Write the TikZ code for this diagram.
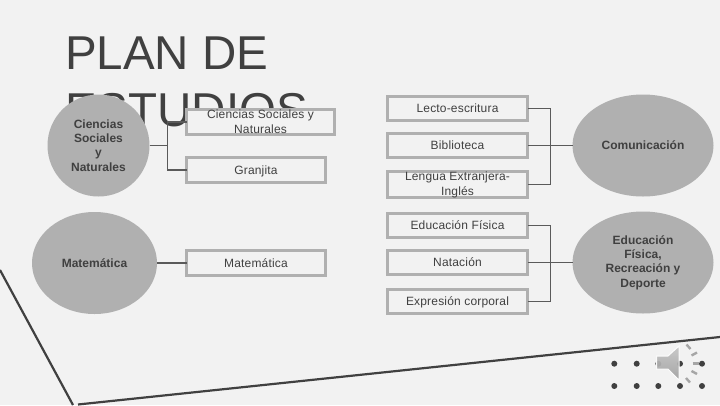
\documentclass[tikz,border=0pt]{standalone}
\usepackage{fontspec}
\setmainfont{Liberation Sans}
\usetikzlibrary{shapes.geometric}
\definecolor{bgc}{HTML}{F2F2F2}
\definecolor{ink}{HTML}{404040}
\definecolor{fillc}{HTML}{B0B0B0}
\definecolor{linkc}{HTML}{5A5A5A}
\tikzset{
  oval/.style={ellipse,fill=fillc,draw=none,inner sep=0pt,outer sep=0pt,align=center,text=ink,font=\fontsize{12}{14.4}\selectfont\bfseries},
  lbox/.style={rectangle,draw=fillc,line width=3pt,fill=bgc,inner sep=0pt,outer sep=0pt,align=center,text=ink,font=\fontsize{12}{15}\selectfont\addfontfeatures{LetterSpace=1.5}},
  lone/.style={lbox,text height=8pt,text depth=0pt},
  link/.style={draw=linkc,line width=1.2pt},
  edgeline/.style={draw=ink,line width=2.2pt},
  dotmark/.style={circle,fill=ink,inner sep=0pt,minimum size=6pt},
  title/.style={anchor=north west,inner sep=0pt,align=left,text=ink,font=\fontsize{47.5}{57.6}\selectfont},
  bar/.style={line width=2.4pt,draw=gray!85,opacity=.8}
}
\begin{document}
\begin{tikzpicture}[x=1pt,y=-1pt]
\useasboundingbox[fill=bgc] (0,0) rectangle (720,405);
% frame lines
\coordinate (fa) at (0,270);
\coordinate (fb) at (73,405);
\coordinate (fc) at (78,404.5);
\coordinate (fd) at (720,337);
\draw[edgeline] (fa) -- (fb);
\draw[edgeline] (fc) -- (fd);
% title
\node[title] (ttl) at (65,36.5) {PLAN DE\\ESTUDIOS};
% dots
\foreach \r/\yy in {a/363.7,b/386}{
  \foreach \c/\xx in {1/614.3,2/636.7,3/658.3,4/680,5/702}{
    \node[dotmark] (d\r\c) at (\xx,\yy) {};
  }
}
% ovals
\node[oval,minimum width=102pt,minimum height=102pt] (ocs) at (98.5,145.5) {Ciencias\\Sociales\\y\\Naturales};
\node[oval,minimum width=125pt,minimum height=102pt] (omat) at (94.5,263) {Matemática};
\node[oval,minimum width=141pt,minimum height=102pt] (ocom) at (643,145.5) {Comunicación};
\node[oval,minimum width=141pt,minimum height=102pt] (oef) at (643,262.5) {Educación\\Física,\\Recreación y\\Deporte};
% boxes
\node[lbox,minimum width=148pt,minimum height=25pt] (bcs) at (260.5,122) {Ciencias Sociales y\\Naturales};
\node[lone,minimum width=139pt,minimum height=25pt] (bgr) at (256,170) {Granjita};
\node[lone,minimum width=139pt,minimum height=25pt] (bmat) at (256,263) {Matemática};
\node[lone,minimum width=140pt,minimum height=24pt] (ble) at (457.5,108.5) {Lecto-escritura};
\node[lone,minimum width=140pt,minimum height=24pt] (bbi) at (457.5,145.5) {Biblioteca};
\node[lbox,minimum width=140pt,minimum height=24pt] (bli) at (457.5,184.5) {Lengua Extranjera-\\Inglés};
\node[lone,minimum width=140pt,minimum height=24pt] (bef) at (457.5,225.5) {Educación Física};
\node[lone,minimum width=140pt,minimum height=24pt] (bna) at (457.5,262.5) {Natación};
\node[lone,minimum width=140pt,minimum height=24pt] (bex) at (457.5,301.5) {Expresión corporal};
% connectors
\coordinate (j1) at (167.5,145.5);
\coordinate (j2) at (550.5,145.5);
\coordinate (j3) at (550.5,262.5);
\draw[link] (ocs.east) -- (j1);
\draw[link] (j1) |- (bcs.west);
\draw[link] (j1) |- (bgr.west);
\draw[link] (omat.east) -- (bmat.west);
\draw[link] (ble.east) -| (j2);
\draw[link] (bli.east) -| (j2);
\draw[link] (bbi.east) -- (ocom.west);
\draw[link] (bef.east) -| (j3);
\draw[link] (bex.east) -| (j3);
\draw[link] (bna.east) -- (oef.west);
% speaker
\shade[top color=gray!45,bottom color=gray!75,opacity=.92,draw=white,line width=1pt]
  (656.5,356) -- (668,356) -- (679,346) -- (679,380) -- (668,369) -- (656.5,369) -- cycle;
\draw[bar] (686.5,344.5) -- (690.5,349);
\draw[bar] (691.5,355.5) -- (697,352.5);
\draw[bar] (692.5,363.3) -- (699,363.3);
\draw[bar] (691.5,371) -- (697,374);
\draw[bar] (686,378) -- (690,382.5);
\end{tikzpicture}
\end{document}
